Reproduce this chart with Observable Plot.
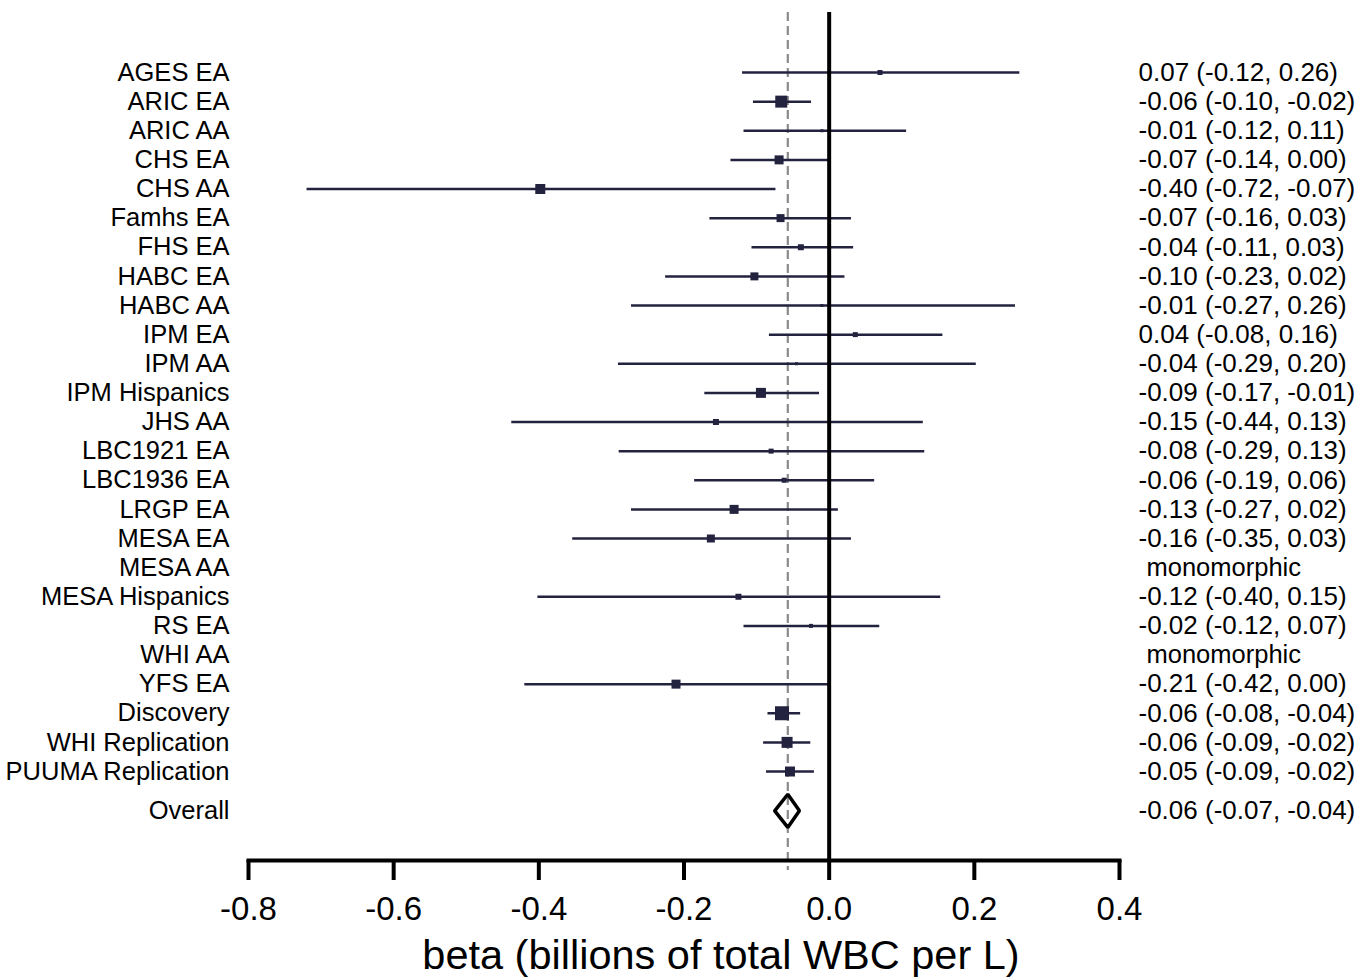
<!DOCTYPE html>
<html>
<head>
<meta charset="utf-8">
<script src="https://cdn.jsdelivr.net/npm/d3@7"></script>
<script src="https://cdn.jsdelivr.net/npm/@observablehq/plot@0.6"></script>
<style>
  html, body { margin: 0; padding: 0; background: #fff; }
  #chart svg { display: block; }
</style>
</head>
<body>
<div id="chart"></div>
<script>
// ---- Data ----
const studies = ["AGES EA","ARIC EA","ARIC AA","CHS EA","CHS AA","Famhs EA","FHS EA","HABC EA","HABC AA","IPM EA","IPM AA","IPM Hispanics","JHS AA","LBC1921 EA","LBC1936 EA","LRGP EA","MESA EA","MESA AA","MESA Hispanics","RS EA","WHI AA","YFS EA","Discovery","WHI Replication","PUUMA Replication"];
const beta  = [0.070,-0.066,-0.010,-0.069,-0.398,-0.067,-0.039,-0.103,-0.010,0.036,-0.045,-0.094,-0.156,-0.080,-0.062,-0.131,-0.163,null,-0.125,-0.025,null,-0.211,-0.065,-0.058,-0.054];
const lower = [-0.120,-0.105,-0.118,-0.136,-0.720,-0.165,-0.107,-0.226,-0.273,-0.083,-0.291,-0.172,-0.438,-0.290,-0.186,-0.273,-0.354,null,-0.402,-0.118,null,-0.420,-0.085,-0.091,-0.087];
const upper = [0.262,-0.025,0.106,0.000,-0.074,0.030,0.033,0.021,0.256,0.156,0.202,-0.014,0.129,0.131,0.062,0.012,0.030,null,0.153,0.069,null,0.000,-0.040,-0.026,-0.021];
const weight = [5,12,3,9,10,8,6,8,3,5,3,10,6,5,5,9,8,null,6,4,null,9,14,11,10];
const ciLabels = ["0.07 (-0.12, 0.26)","-0.06 (-0.10, -0.02)","-0.01 (-0.12, 0.11)","-0.07 (-0.14, 0.00)","-0.40 (-0.72, -0.07)","-0.07 (-0.16, 0.03)","-0.04 (-0.11, 0.03)","-0.10 (-0.23, 0.02)","-0.01 (-0.27, 0.26)","0.04 (-0.08, 0.16)","-0.04 (-0.29, 0.20)","-0.09 (-0.17, -0.01)","-0.15 (-0.44, 0.13)","-0.08 (-0.29, 0.13)","-0.06 (-0.19, 0.06)","-0.13 (-0.27, 0.02)","-0.16 (-0.35, 0.03)","monomorphic","-0.12 (-0.40, 0.15)","-0.02 (-0.12, 0.07)","monomorphic","-0.21 (-0.42, 0.00)","-0.06 (-0.08, -0.04)","-0.06 (-0.09, -0.02)","-0.05 (-0.09, -0.02)"];

const overallLabel = "Overall";
const overallBeta = -0.057;
const overallLower = -0.075;
const overallUpper = -0.041;
const overallCI = "-0.06 (-0.07, -0.04)";
const overallRow = 25.35;

const xTicks = [-0.8,-0.6,-0.4,-0.2,0.0,0.2,0.4];
const xLabel = "beta (billions of total WBC per L)";

// ---- Build table ----
const rows = studies.map((s, i) => ({
  study: s, row: i, beta: beta[i], lo: lower[i], hi: upper[i], w: weight[i], ci: ciLabels[i]
}));
const estRows = rows.filter(d => d.beta != null);
const monoRows = rows.filter(d => d.beta == null);
const labelRows = rows.concat([{study: overallLabel, row: overallRow, ci: overallCI}]);
const diamondHalf = 0.57; // diamond half-height, in rows
const diamond = [
  {x: overallLower, y: overallRow},
  {x: overallBeta, y: overallRow - diamondHalf},
  {x: overallUpper, y: overallRow},
  {x: overallBeta, y: overallRow + diamondHalf},
  {x: overallLower, y: overallRow}
];

const navy = "#23223f";
const font = "'Liberation Sans', Arial, Helvetica, sans-serif";

const chart = Plot.plot({
  width: 1372,
  height: 977,
  marginTop: 12,
  marginBottom: 117,
  marginLeft: 248,
  marginRight: 253,
  style: {fontFamily: font, color: "#000", background: "#fff"},
  x: {domain: [-0.8, 0.4], axis: null},
  y: {domain: [0, 24], range: [72, 771], axis: null},
  r: {type: "identity"},
  marks: [
    // reference line at the overall estimate
    Plot.ruleX([overallBeta], {stroke: "#8a8a8a", strokeWidth: 2.2, strokeDasharray: "9,5", insetBottom: -10}),
    // CI bars
    Plot.link(estRows, {x1: "lo", x2: "hi", y1: "row", y2: "row", stroke: navy, strokeWidth: 2.5}),
    // weight boxes
    Plot.dot(estRows, {x: "beta", y: "row", symbol: "square", r: d => d.w / Math.sqrt(Math.PI), fill: navy, stroke: "none"}),
    // null line
    Plot.ruleX([0], {stroke: "#000", strokeWidth: 4}),
    // overall diamond
    Plot.line(diamond, {x: "x", y: "y", stroke: "#000", strokeWidth: 3.5, strokeLinejoin: "miter", fill: "none"}),
    // axis line + ticks + labels
    Plot.frame({anchor: "bottom", stroke: "#000", strokeWidth: 4}),
    Plot.axisX({
      ticks: xTicks, tickSize: 20, tickPadding: 16, strokeWidth: 4, stroke: "#000",
      tickFormat: d => d.toFixed(1), fontSize: 33, label: null, fill: "#000"
    }),
    Plot.text([xLabel], {frameAnchor: "bottom", dy: 95, dx: 37, fontSize: 41.5, fill: "#000", lineAnchor: "middle"}),
    // study labels
    Plot.text(labelRows, {y: "row", text: "study", frameAnchor: "left", textAnchor: "end", dx: -19, fontSize: 25.5, fill: "#000"}),
    // CI labels
    Plot.text(labelRows.filter(d => d.ci !== "monomorphic"), {y: "row", text: "ci", frameAnchor: "right", textAnchor: "start", dx: 19, fontSize: 26, fill: "#000"}),
    Plot.text(monoRows, {y: "row", text: "ci", frameAnchor: "right", textAnchor: "start", dx: 27, fontSize: 25.5, fill: "#000"})
  ]
});

document.getElementById("chart").appendChild(chart);
</script>
</body>
</html>
